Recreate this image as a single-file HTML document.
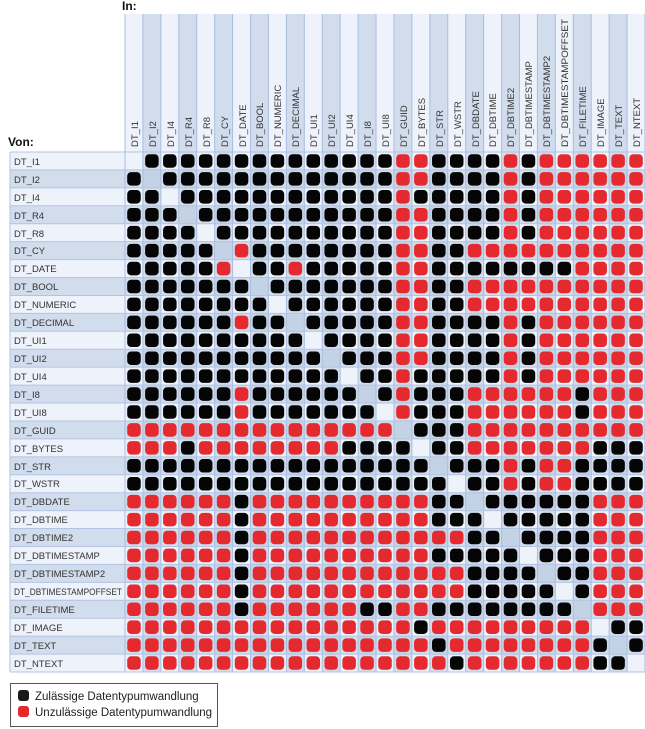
<!DOCTYPE html>
<html><head><meta charset="utf-8"><style>
html,body{margin:0;padding:0;background:#fff;width:645px;height:729px;overflow:hidden}
svg{display:block}
text{font-family:"Liberation Sans",sans-serif}
</style></head><body>
<svg id="s" width="645" height="729" xmlns="http://www.w3.org/2000/svg">
<g id="bg"></g>
<text x="122" y="10" font-size="12" font-weight="bold" fill="#111">In:</text>
<text x="8" y="146" font-size="12" font-weight="bold" fill="#111">Von:</text>
<g id="colLabels" font-size="9.5" fill="#333">
<text transform="translate(138,147) rotate(-90)">DT_I1</text>
<text transform="translate(156,147) rotate(-90)">DT_I2</text>
<text transform="translate(174,147) rotate(-90)">DT_I4</text>
<text transform="translate(192,147) rotate(-90)">DT_R4</text>
<text transform="translate(210,147) rotate(-90)">DT_R8</text>
<text transform="translate(228,147) rotate(-90)">DT_CY</text>
<text transform="translate(246,147) rotate(-90)">DT_DATE</text>
<text transform="translate(263,147) rotate(-90)">DT_BOOL</text>
<text transform="translate(281,147) rotate(-90)">DT_NUMERIC</text>
<text transform="translate(299,147) rotate(-90)">DT_DECIMAL</text>
<text transform="translate(317,147) rotate(-90)">DT_UI1</text>
<text transform="translate(335,147) rotate(-90)">DT_UI2</text>
<text transform="translate(353,147) rotate(-90)">DT_UI4</text>
<text transform="translate(371,147) rotate(-90)">DT_I8</text>
<text transform="translate(389,147) rotate(-90)">DT_UI8</text>
<text transform="translate(407,147) rotate(-90)">DT_GUID</text>
<text transform="translate(425,147) rotate(-90)">DT_BYTES</text>
<text transform="translate(443,147) rotate(-90)">DT_STR</text>
<text transform="translate(461,147) rotate(-90)">DT_WSTR</text>
<text transform="translate(479,147) rotate(-90)">DT_DBDATE</text>
<text transform="translate(496,147) rotate(-90)">DT_DBTIME</text>
<text transform="translate(514,147) rotate(-90)">DT_DBTIME2</text>
<text transform="translate(532,147) rotate(-90)">DT_DBTIMESTAMP</text>
<text transform="translate(550,147) rotate(-90)">DT_DBTIMESTAMP2</text>
<text transform="translate(568,147) rotate(-90)" textLength="128" lengthAdjust="spacingAndGlyphs">DT_DBTIMESTAMPOFFSET</text>
<text transform="translate(586,147) rotate(-90)">DT_FILETIME</text>
<text transform="translate(604,147) rotate(-90)">DT_IMAGE</text>
<text transform="translate(622,147) rotate(-90)">DT_TEXT</text>
<text transform="translate(640,147) rotate(-90)">DT_NTEXT</text>
</g>
<g id="rowLabels" font-size="9.5" fill="#333">
<text x="14" y="165">DT_I1</text>
<text x="14" y="183">DT_I2</text>
<text x="14" y="201">DT_I4</text>
<text x="14" y="219">DT_R4</text>
<text x="14" y="237">DT_R8</text>
<text x="14" y="254">DT_CY</text>
<text x="14" y="272">DT_DATE</text>
<text x="14" y="290">DT_BOOL</text>
<text x="14" y="308">DT_NUMERIC</text>
<text x="14" y="326">DT_DECIMAL</text>
<text x="14" y="344">DT_UI1</text>
<text x="14" y="362">DT_UI2</text>
<text x="14" y="380">DT_UI4</text>
<text x="14" y="398">DT_I8</text>
<text x="14" y="416">DT_UI8</text>
<text x="14" y="434">DT_GUID</text>
<text x="14" y="452">DT_BYTES</text>
<text x="14" y="470">DT_STR</text>
<text x="14" y="487">DT_WSTR</text>
<text x="14" y="505">DT_DBDATE</text>
<text x="14" y="523">DT_DBTIME</text>
<text x="14" y="541">DT_DBTIME2</text>
<text x="14" y="559">DT_DBTIMESTAMP</text>
<text x="14" y="577">DT_DBTIMESTAMP2</text>
<text x="14" y="595" textLength="108" lengthAdjust="spacingAndGlyphs">DT_DBTIMESTAMPOFFSET</text>
<text x="14" y="613">DT_FILETIME</text>
<text x="14" y="631">DT_IMAGE</text>
<text x="14" y="649">DT_TEXT</text>
<text x="14" y="667">DT_NTEXT</text>
</g>
<g id="dots"></g>
<rect x="10.5" y="683.5" width="207" height="43" fill="#fff" stroke="#555" stroke-width="1"/>
<rect x="18" y="690" width="11" height="11" rx="3" fill="#1a1a1a"/>
<rect x="18" y="706" width="11" height="11" rx="3" fill="#e3282e"/>
<text x="35" y="700" font-size="11.5" fill="#222">Zulässige Datentypumwandlung</text>
<text x="35" y="716" font-size="11.5" fill="#222">Unzulässige Datentypumwandlung</text>
</svg>
<script>
var M=[
"-BBBBBBBBBBBBBBRRBBBBRBRRRRRR",
"B-BBBBBBBBBBBBBRRBBBBRBRRRRRR",
"BB-BBBBBBBBBBBBRBBBBBRBRRRRRR",
"BBB-BBBBBBBBBBBRRBBBBRBRRRRRR",
"BBBB-BBBBBBBBBBRRBBBBRBRRRRRR",
"BBBBB-RBBBBBBBBRRBBRRRRRRRRRR",
"BBBBBR-BBRBBBBBRRBBBBBBBBRRRR",
"BBBBBBB-BBBBBBBRRBBRRRRRRRRRR",
"BBBBBBBB-BBBBBBRRBBRRRRRRRRRR",
"BBBBBBRBB-BBBBBRRBBBBRBRRRRRR",
"BBBBBBBBBB-BBBBRRBBBBRBRRRRRR",
"BBBBBBBBBBB-BBBRRBBBBRBRRRRRR",
"BBBBBBBBBBBB-BBRBBBBBRBRRRRRR",
"BBBBBBRBBBBBB-BRBBBRRRRRRBRRR",
"BBBBBBRBBBBBBB-RBBBRRRRRRBRRR",
"RRRRRRRRRRRRRRR-BBBRRRRRRRRRR",
"RRRBRRRRRRRRBBBB-BBRRRRRRRBBB",
"BBBBBBBBBBBBBBBBB-BBBRBRRBBBB",
"BBBBBBBBBBBBBBBBBB-BBRBRRBBBB",
"RRRRRRBRRRRRRRRRRBB-BBBBBBRRR",
"RRRRRRBRRRRRRRRRRBBB-BBBBBRRR",
"RRRRRRBRRRRRRRRRRRRBB-BBBBRRR",
"RRRRRRBRRRRRRRRRRBBBBB-BBBRRR",
"RRRRRRBRRRRRRRRRRRRBBBB-BBRRR",
"RRRRRRBRRRRRRRRRRRRBBBBB-BRRR",
"RRRRRRBRRRRRRBBRRBBBBBBBB-RRR",
"RRRRRRRRRRRRRRRRBRRRRRRRRR-BB",
"RRRRRRRRRRRRRRRRRBRRRRRRRRB-B",
"RRRRRRRRRRRRRRRRRRBRRRRRRRBB-"];
var NS="http://www.w3.org/2000/svg";
function el(p,t,a){var e=document.createElementNS(NS,t);for(var k in a)e.setAttribute(k,a[k]);p.appendChild(e);return e;}
var bg=document.getElementById("bg"),dots=document.getElementById("dots");
var x0=125,y0=152,w=520/29,h=520/29,N=29;
el(bg,"rect",{x:x0,y:14,width:520,height:y0-14,fill:"#eef2fa"});
el(bg,"rect",{x:10,y:y0,width:115,height:520,fill:"#eef2fa"});
el(bg,"rect",{x:x0,y:y0,width:520,height:520,fill:"#eef2fa"});
for(var i=0;i<N;i++){
 if(i%2==1){
  el(bg,"rect",{x:x0+i*w,y:14,width:w,height:y0-14+520,fill:"#b9cbe0","fill-opacity":"0.55"});
  el(bg,"rect",{x:10,y:y0+i*h,width:115+520,height:h,fill:"#b9cbe0","fill-opacity":"0.55"});
 }
}
for(var i=0;i<=N;i++){
 el(bg,"line",{x1:x0+i*w,y1:14,x2:x0+i*w,y2:y0+520,stroke:"#a9bde0","stroke-width":1});
 el(bg,"line",{x1:10,y1:y0+i*h,x2:645,y2:y0+i*h,stroke:"#b3c4e2","stroke-width":1});
}
el(bg,"line",{x1:10,y1:y0,x2:10,y2:y0+520,stroke:"#b3c4e2","stroke-width":1});
for(var r=0;r<N;r++)for(var c=0;c<N;c++){
 var ch=M[r][c];if(ch=="-")continue;
 el(dots,"rect",{x:x0+c*w+2.2,y:y0+r*h+2.2,width:w-4.4,height:h-4.4,rx:4,fill:ch=="B"?"#050505":"#e52a2f"});
}
</script>
</body></html>
